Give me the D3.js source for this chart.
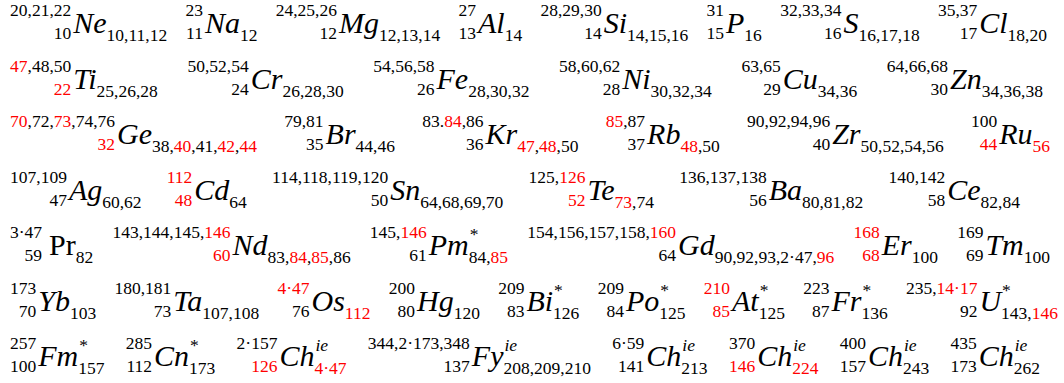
<!DOCTYPE html>
<html><head><meta charset="utf-8">
<script src="https://cdn.jsdelivr.net/npm/d3@7"></script>
</head><body style="margin:0">
<svg id="chart" width="1064" height="383"></svg>
<script>
//
// one array per line of nuclides
// [symbol, left sup, left sub, right sup, right sub], a part in [..] is red
//

var row1 = [
	["Ne", "20,21,22", "10", "", "10,11,12"],
	["Na", "23", "11", "", "12"],
	["Mg", "24,25,26", "12", "", "12,13,14"],
	["Al", "27", "13", "", "14"],
	["Si", "28,29,30", "14", "", "14,15,16"],
	["P", "31", "15", "", "16"],
	["S", "32,33,34", "16", "", "16,17,18"],
	["Cl", "35,37", "17", "", "18,20"]
];

var row2 = [
	["Ti", "[47],48,50", "[22]", "", "25,26,28"],
	["Cr", "50,52,54", "24", "", "26,28,30"],
	["Fe", "54,56,58", "26", "", "28,30,32"],
	["Ni", "58,60,62", "28", "", "30,32,34"],
	["Cu", "63,65", "29", "", "34,36"],
	["Zn", "64,66,68", "30", "", "34,36,38"]
];

var row3 = [
	["Ge", "[70],72,[73],74,76", "[32]", "", "38,[40],41,[42],[44]"],
	["Br", "79,81", "35", "", "44,46"],
	["Kr", "83.[84],86", "36", "", "[47],[48],50"],
	["Rb", "[85],87", "37", "", "[48],50"],
	["Zr", "90,92,94,96", "40", "", "50,52,54,56"],
	["Ru", "100", "[44]", "", "[56]"]
];

var row4 = [
	["Ag", "107,109", "47", "", "60,62"],
	["Cd", "[112]", "[48]", "", "64"],
	["Sn", "114,118,119,120", "50", "", "64,68,69,70"],
	["Te", "125,[126]", "[52]", "", "[73],74"],
	["Ba", "136,137,138", "56", "", "80,81,82"],
	["Ce", "140,142", "58", "", "82,84"]
];

var row5 = [
	["Pr", "3·47", "59", "", "82"],
	["Nd", "143,144,145,[146]", "[60]", "", "83,[84],[85],86"],
	["Pm", "145,[146]", "61", "*", "84,[85]"],
	["Gd", "154,156,157,158,[160]", "64", "", "90,92,93,2·47,[96]"],
	["Er", "[168]", "[68]", "", "100"],
	["Tm", "169", "69", "", "100"]
];

var row6 = [
	["Yb", "173", "70", "", "103"],
	["Ta", "180,181", "73", "", "107,108"],
	["Os", "[4·47]", "76", "", "[112]"],
	["Hg", "200", "80", "", "120"],
	["Bi", "209", "83", "*", "126"],
	["Po", "209", "84", "*", "125"],
	["At", "[210]", "[85]", "*", "125"],
	["Fr", "223", "87", "*", "136"],
	["U", "235,[14·17]", "92", "*", "143,[146]"]
];

var row7 = [
	["Fm", "257", "100", "*", "157"],
	["Cn", "285", "112", "*", "173"],
	["Ch", "2·157", "[126]", "ie", "[4·47]"],
	["Fy", "344,2·173,348", "137", "ie", "208,209,210"],
	["Ch", "6·59", "141", "ie", "213"],
	["Ch", "370", "[146]", "ie", "[224]"],
	["Ch", "400", "157", "ie", "243"],
	["Ch", "435", "173", "ie", "262"]
];

var uprightSymbols = ["Pr"];

var rows = [row1, row2, row3, row4, row5, row6, row7];

//
// layout
//

var fontName = "Liberation Serif";
var mainSize = 30;
var scriptSize = 17.5;
var xStart = 10;
var rowEnds = [1047, 1043, 1050, 1020, 1050, 1058, 1040];	// right edge of each line

var svg = d3.select("#chart");

var yRow = d3.scalePoint()
		.domain(d3.range(rows.length))
		.range([33, 366]);

// widths come from a canvas, the svg texts are never measured
var ctx = document.createElement("canvas").getContext("2d");

function measure(s, size, italic)
{
	ctx.font = (italic ? "italic " : "") + size + "px '" + fontName + "'";
	return ctx.measureText(s).width;
}

function parse_marks(s)
{
	return s.split(/(\[[^\]]*\])/)
		.filter(t => t.length > 0)
		.map(function(t) {
			if (t[0] == "[")
				return {t: t.slice(1, -1), red: true};
			return {t: t, red: false};
		});
}

function plain(s)
{
	return s.replace(/[\[\]]/g, "");
}

function add_text(g, s, x, y, size, italic, anchor)
{
	var t = g.append("text")
		.attr("x", x)
		.attr("y", y)
		.attr("text-anchor", anchor)
		.style("font-family", "'" + fontName + "', serif")
		.style("font-size", size + "px")
		.style("font-style", italic ? "italic" : "normal");
	t.selectAll("tspan")
		.data(parse_marks(s))
		.enter()
		.append("tspan")
			.attr("fill", d => d.red ? "red" : "black")
			.text(d => d.t);
	return t;
}

// draws one nuclide at local x = 0, returns its width
function draw_element(g, e)
{
	var upright = uprightSymbols.indexOf(e[0]) >= 0;

	var leftW = Math.max(measure(plain(e[1]), scriptSize, false), measure(plain(e[2]), scriptSize, false));
	add_text(g, e[1], leftW, -17, scriptSize, false, "end");
	add_text(g, e[2], leftW, 6, scriptSize, false, "end");

	var sx = leftW + (upright ? 7 : 2);
	add_text(g, e[0], sx, 0, mainSize, !upright, "start");
	var ex = sx + measure(e[0], mainSize, !upright);

	var rsupW = e[3] ? measure(e[3], scriptSize, e[3] == "ie") + 1 : 0;
	add_text(g, e[3], ex + 1, -15, scriptSize, e[3] == "ie", "start");
	add_text(g, e[4], ex, 8, scriptSize, false, "start");

	return ex + Math.max(rsupW, measure(plain(e[4]), scriptSize, false));
}

rows.forEach(function(row, i) {
	var rowG = svg.append("g")
		.attr("class", "row")
		.attr("transform", "translate(0," + yRow(i) + ")");

	var groups = row.map(() => rowG.append("g").attr("class", "nuclide"));
	var widths = row.map((e, k) => draw_element(groups[k], e));

	// spread the leftover space evenly between the nuclides of the line
	var gap = (rowEnds[i] - xStart - d3.sum(widths)) / (row.length - 1);
	var x = xStart;
	groups.forEach(function(g, k) {
		g.attr("transform", "translate(" + x + ",0)");
		x += widths[k] + gap;
	});
});
</script></body></html>
